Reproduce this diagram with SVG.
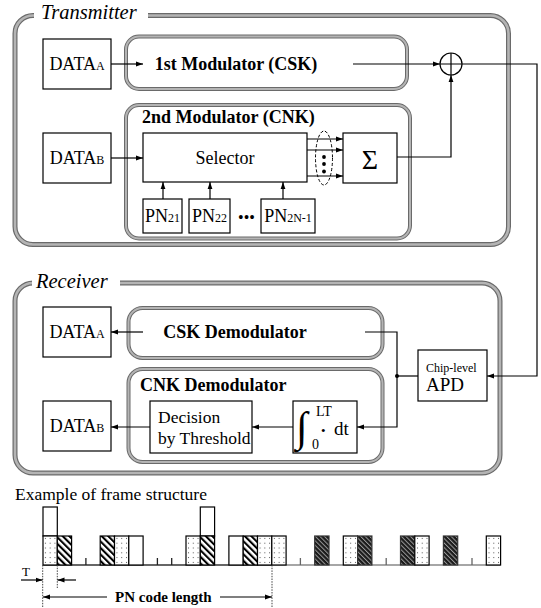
<svg xmlns="http://www.w3.org/2000/svg" width="541" height="608" viewBox="0 0 541 608" font-family="'Liberation Serif','Times New Roman',serif">
<style>
text{font-family:"Liberation Serif","Times New Roman",serif;fill:#000}
.t{font-size:18px}
.s{font-size:12px}
.b{font-size:18px;font-weight:bold}
.ttl{font-size:20.5px;font-style:italic}
.box{fill:#fff;stroke:#000;stroke-width:1.2}
.gA{fill:none;stroke:#6a6a6a;stroke-width:5}
.gB{fill:none;stroke:#b4b4b4;stroke-width:2.6}
.iA{fill:none;stroke:#6a6a6a;stroke-width:4}
.iB{fill:none;stroke:#b4b4b4;stroke-width:2}
.ln{fill:none;stroke:#000;stroke-width:1.2}
.ar{marker-end:url(#ah)}
.dt{fill:none;stroke:#444;stroke-width:1;stroke-dasharray:1.5 1.2}
.cell{stroke:#000;stroke-width:1.2}
.cell2{stroke:#333;stroke-width:1.2}
</style>
<defs>
<marker id="ah" markerUnits="userSpaceOnUse" markerWidth="8" markerHeight="6" refX="7" refY="3" orient="auto"><path d="M0,0.6 L7,3 L0,5.4 z" fill="#000"/></marker>
<pattern id="hatch" width="4.6" height="4.6" patternUnits="userSpaceOnUse" patternTransform="rotate(-45)"><rect width="4.6" height="4.6" fill="#fff"/><rect width="2.1" height="4.6" fill="#000"/></pattern>
<pattern id="dhatch" width="3.2" height="3.2" patternUnits="userSpaceOnUse" patternTransform="rotate(-45)"><rect width="3.2" height="3.2" fill="#1a1a1a"/><rect width="1" height="3.2" fill="#9a9a9a"/></pattern>
<pattern id="dots" x="43" y="536" width="4.77" height="4.8" patternUnits="userSpaceOnUse"><rect width="4.77" height="4.8" fill="#fff"/><rect x="1.9" y="1.9" width="1" height="1" fill="#555"/></pattern>
</defs>

<g id="transmitter">
<rect class="gA" x="15" y="15.5" width="493.5" height="229" rx="18"/>
<rect class="gB" x="15" y="15.5" width="493.5" height="229" rx="18"/>
<rect x="34" y="4" width="114" height="20" fill="#fff"/>
<text class="ttl" x="41" y="18.5">Transmitter</text>
</g>

<g id="receiver">
<rect class="gA" x="15" y="283" width="485" height="190" rx="18"/>
<rect class="gB" x="15" y="283" width="485" height="190" rx="18"/>
<rect x="32" y="271" width="88" height="20" fill="#fff"/>
<text class="ttl" x="36" y="288">Receiver</text>
</g>

<g id="mod1">
<rect class="iA" x="126" y="36.5" width="281" height="52.5" rx="13"/>
<rect class="iB" x="126" y="36.5" width="281" height="52.5" rx="13"/>
<text class="b" x="236" y="70" text-anchor="middle">1st Modulator (CSK)</text>
</g>

<g id="mod2">
<rect class="iA" x="126" y="105" width="284" height="133.5" rx="13"/>
<rect class="iB" x="126" y="105" width="284" height="133.5" rx="13"/>
<text class="b" x="142" y="123">2nd Modulator (CNK)</text>
</g>

<g id="csk-demod">
<rect class="iA" x="128.5" y="308" width="254" height="50" rx="14"/>
<rect class="iB" x="128.5" y="308" width="254" height="50" rx="14"/>
<text class="b" x="235" y="338" text-anchor="middle">CSK Demodulator</text>
</g>

<g id="cnk-demod">
<rect class="iA" x="128.5" y="369" width="254" height="93" rx="14"/>
<rect class="iB" x="128.5" y="369" width="254" height="93" rx="14"/>
<text class="b" x="140" y="391">CNK Demodulator</text>
</g>

<g id="tx-dataA">
<rect class="box" x="43" y="39" width="68" height="50"/>
<text class="t" x="77" y="70" text-anchor="middle">DATA<tspan class="s">A</tspan></text>
</g>
<g id="tx-dataB">
<rect class="box" x="43" y="133" width="68" height="50"/>
<text class="t" x="77" y="164" text-anchor="middle">DATA<tspan class="s">B</tspan></text>
</g>
<g id="selector">
<rect class="box" x="143" y="133" width="164" height="49"/>
<text class="t" x="225" y="164" text-anchor="middle">Selector</text>
</g>
<g id="sigma">
<rect class="box" x="343" y="133" width="54" height="50"/>
<text x="370" y="169" text-anchor="middle" style="font-size:28px">Σ</text>
</g>
<g id="pn21">
<rect class="box" x="143" y="199" width="39" height="34"/>
<text class="t" x="162.5" y="222" text-anchor="middle">PN<tspan class="s">21</tspan></text>
</g>
<g id="pn22">
<rect class="box" x="189" y="199" width="41" height="34"/>
<text class="t" x="209.5" y="222" text-anchor="middle">PN<tspan class="s">22</tspan></text>
</g>
<text x="246.5" y="223" text-anchor="middle" style="font-size:16px">•••</text>
<g id="pn2n1">
<rect class="box" x="261" y="199" width="54" height="34"/>
<text class="t" x="288" y="222" text-anchor="middle">PN<tspan class="s">2N-1</tspan></text>
</g>
<g id="adder">
<circle cx="451" cy="64" r="11" fill="#fff" stroke="#000" stroke-width="1.2"/>
<path class="ln" d="M440,64 H462 M451,53 V75"/>
</g>

<g id="rx-dataA">
<rect class="box" x="43" y="307" width="68" height="50"/>
<text class="t" x="77" y="338" text-anchor="middle">DATA<tspan class="s">A</tspan></text>
</g>
<g id="rx-dataB">
<rect class="box" x="43" y="401" width="68" height="50"/>
<text class="t" x="77" y="432" text-anchor="middle">DATA<tspan class="s">B</tspan></text>
</g>
<g id="decision">
<rect class="box" x="150" y="401" width="102" height="52"/>
<text x="158" y="423" style="font-size:17.5px">Decision</text>
<text x="158" y="444" style="font-size:17.5px">by Threshold</text>
</g>
<g id="integrator">
<rect class="box" x="293" y="401" width="64" height="52"/>
<text x="296" y="441" style="font-size:42px">∫</text>
<text x="312" y="449" style="font-size:14px">0</text>
<text x="316" y="416" style="font-size:14px">LT</text>
<text x="321" y="435" style="font-size:13px">•</text>
<text x="334" y="435" style="font-size:19px">dt</text>
</g>
<g id="apd">
<rect class="box" x="418" y="350" width="69" height="51"/>
<text x="426" y="372" style="font-size:12px">Chip-level</text>
<text x="426" y="391" style="font-size:19px">APD</text>
</g>

<g id="connectors">
<path class="ln ar" d="M111,64 H143"/>
<path class="ln ar" d="M353,64 H440"/>
<path class="ln ar" d="M462,64 H537 V376 H487"/>
<path class="ln ar" d="M397,157 H451 V75"/>
<path class="ln ar" d="M111,158 H143"/>
<path class="ln ar" d="M307,139 H343"/>
<path class="ln ar" d="M307,150 H343"/>
<path class="ln ar" d="M307,176 H343"/>
<ellipse cx="324" cy="158" rx="8.5" ry="27" fill="none" stroke="#000" stroke-width="1" stroke-dasharray="3 2"/>
<circle cx="324" cy="157" r="1.9"/>
<circle cx="324" cy="164" r="1.9"/>
<circle cx="324" cy="171.5" r="1.9"/>
<path class="ln ar" d="M163,199 V182"/>
<path class="ln ar" d="M210,199 V182"/>
<path class="ln ar" d="M283,199 V182"/>
<path class="ln" d="M418,376 H397"/>
<circle cx="397" cy="376" r="2"/>
<path class="ln ar" d="M365,332 H397 V427 H357"/>
<path class="ln ar" d="M143,332 H111"/>
<path class="ln ar" d="M293,427 H252"/>
<path class="ln ar" d="M150,427 H111"/>
</g>

<g id="frame">
<text x="15" y="500" style="font-size:17.5px">Example of frame structure</text>
<path d="M43,565 H272" stroke="#333" stroke-width="1.4"/>
<path d="M272,565 H500.6" stroke="#888" stroke-width="1.4"/>
<path d="M85.9,558 V565 M157.4,558 V565 M171.7,558 V565" stroke="#222" stroke-width="1.3"/>
<path d="M300.4,558 V565 M386.2,558 V565 M472,558 V565" stroke="#666" stroke-width="1.3"/>
<rect class="cell" x="43" y="507" width="14.3" height="29" fill="#fff"/>
<rect class="cell" x="200.3" y="507" width="14.3" height="29" fill="#fff"/>
<rect class="cell" x="43" y="536" width="14.3" height="29" fill="url(#dots)"/>
<rect class="cell" x="57.3" y="536" width="14.3" height="29" fill="url(#hatch)"/>
<rect class="cell" x="100.2" y="536" width="14.3" height="29" fill="url(#hatch)"/>
<rect class="cell" x="114.5" y="536" width="14.3" height="29" fill="url(#dots)"/>
<rect class="cell" x="128.8" y="536" width="14.3" height="29" fill="#fff"/>
<rect class="cell" x="186" y="536" width="14.3" height="29" fill="url(#dots)"/>
<rect class="cell" x="200.3" y="536" width="14.3" height="29" fill="url(#hatch)"/>
<rect class="cell" x="228.9" y="536" width="14.3" height="29" fill="#fff"/>
<rect class="cell" x="243.2" y="536" width="14.3" height="29" fill="url(#hatch)"/>
<rect class="cell" x="257.5" y="536" width="14.3" height="29" fill="url(#dots)"/>
<rect class="cell" x="271.8" y="536" width="14.3" height="29" fill="url(#dots)"/>
<rect class="cell2" x="314.7" y="536" width="14.3" height="29" fill="url(#dhatch)"/>
<rect class="cell" x="343.3" y="536" width="14.3" height="29" fill="url(#dots)"/>
<rect class="cell2" x="357.6" y="536" width="14.3" height="29" fill="url(#dhatch)"/>
<rect class="cell2" x="400.5" y="536" width="14.3" height="29" fill="url(#dhatch)"/>
<rect class="cell" x="414.8" y="536" width="14.3" height="29" fill="url(#dots)"/>
<rect class="cell2" x="443.4" y="536" width="14.3" height="29" fill="url(#dhatch)"/>
<rect class="cell" x="486.3" y="536" width="14.3" height="29" fill="url(#dots)"/>
<path class="dt" d="M42.7,565 V608 M57.3,565 V588 M272,565 V608"/>
<text x="22" y="576" style="font-size:13px">T</text>
<path class="ln ar" d="M21,580 H42.5"/>
<path class="ln ar" d="M76,580 H57.5"/>
<path class="ln ar" d="M107,597 H43"/>
<text x="115" y="602" style="font-size:15px;font-weight:bold">PN code length</text>
<path class="ln ar" d="M220,597 H272"/>
</g>
</svg>
